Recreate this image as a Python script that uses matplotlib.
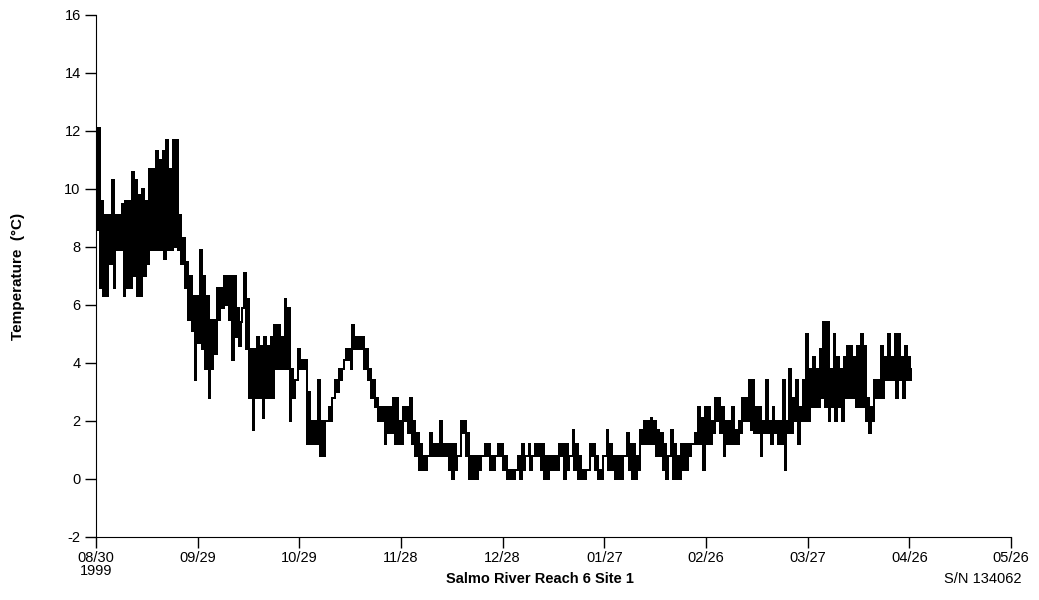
import numpy as np
import matplotlib
matplotlib.use("Agg")
import matplotlib.pyplot as plt

plt.rcParams['font.family'] = ['Liberation Sans', 'DejaVu Sans']
plt.rcParams['axes.unicode_minus'] = False

# daily max / min water temperature (deg C), day 0 = 08/30/1999
day_hi = [12.1, 9.6, 9.1, 9.1, 10.3, 9.1, 9.1, 9.5, 9.6, 9.6,
          10.6, 10.3, 9.8, 10.0, 9.6, 10.7, 10.7, 11.3, 11.0, 11.3,
          11.7, 10.7, 11.7, 11.7, 9.1, 8.3, 7.5, 7.0, 6.3, 6.3,
          7.9, 7.0, 6.3, 5.5, 5.5, 6.6, 6.6, 7.0, 7.0, 7.0,
          7.0, 5.9, 5.4, 7.1, 6.2, 4.5, 4.5, 4.9, 4.6, 4.9,
          4.6, 4.9, 5.3, 5.3, 4.9, 6.2, 5.9, 3.8, 3.4, 4.5,
          4.1, 4.1, 3.0, 2.0, 2.0, 3.4, 2.0, 2.0, 2.5, 2.8,
          3.4, 3.8, 3.8, 4.5, 4.5, 5.3, 4.9, 4.9, 4.9, 4.5,
          3.8, 3.4, 2.8, 2.5, 2.5, 2.5, 2.5, 2.8, 2.8, 2.0,
          2.5, 2.5, 2.8, 2.0, 1.6, 1.2, 0.8, 0.8, 1.6, 1.2,
          1.2, 2.0, 1.2, 1.2, 1.2, 1.2, 0.8, 2.0, 2.0, 1.6,
          0.8, 0.8, 0.8, 0.8, 1.2, 1.2, 0.8, 0.8, 1.2, 1.2,
          0.8, 0.3, 0.3, 0.3, 0.8, 1.2, 0.8, 1.2, 0.8, 1.2,
          1.2, 1.2, 0.8, 0.8, 0.8, 0.8, 1.2, 1.2, 1.2, 0.8,
          1.7, 1.2, 0.8, 0.3, 0.3, 1.2, 1.2, 0.8, 0.3, 0.8,
          1.7, 1.2, 0.8, 0.8, 0.8, 0.8, 1.6, 1.2, 1.2, 0.8,
          1.7, 2.0, 2.0, 2.1, 2.0, 1.7, 1.6, 1.2, 0.8, 1.7,
          1.2, 0.8, 1.2, 1.2, 1.2, 1.2, 1.6, 2.5, 2.1, 2.5,
          2.5, 2.0, 2.8, 2.8, 2.5, 2.0, 2.0, 2.5, 1.7, 2.0,
          2.8, 2.8, 3.4, 3.4, 2.5, 2.5, 2.0, 3.4, 2.0, 2.5,
          2.0, 2.0, 3.4, 2.0, 3.8, 2.8, 3.4, 2.5, 3.4, 5.0,
          3.8, 4.2, 3.8, 4.5, 5.4, 5.4, 3.8, 5.0, 4.2, 3.8,
          4.2, 4.6, 4.6, 4.2, 4.6, 5.0, 4.6, 2.8, 2.5, 3.4,
          3.4, 4.6, 4.2, 5.0, 4.2, 5.0, 5.0, 4.2, 4.6, 4.2,
          3.8]
day_lo = [8.6, 6.6, 6.3, 6.3, 7.4, 6.6, 7.9, 7.9, 6.3, 6.6,
          6.6, 7.0, 6.3, 6.3, 7.0, 7.4, 7.9, 7.9, 7.9, 7.9,
          7.6, 7.9, 7.9, 8.0, 7.9, 7.4, 6.6, 5.5, 5.1, 3.4,
          4.7, 4.5, 3.8, 2.8, 3.8, 4.3, 5.5, 5.9, 6.0, 5.5,
          4.1, 4.9, 4.6, 5.9, 4.5, 2.8, 1.7, 2.8, 2.8, 2.1,
          2.8, 2.8, 2.8, 3.8, 3.8, 3.8, 3.8, 2.0, 2.8, 3.4,
          3.8, 3.8, 1.2, 1.2, 1.2, 1.2, 0.8, 0.8, 2.0, 2.0,
          2.8, 3.0, 3.4, 4.1, 4.1, 3.8, 4.5, 4.5, 4.5, 3.8,
          3.4, 2.8, 2.5, 2.0, 2.0, 1.2, 1.6, 1.6, 1.2, 1.2,
          1.2, 2.0, 1.6, 1.2, 0.8, 0.3, 0.3, 0.3, 0.8, 0.8,
          0.8, 0.8, 0.8, 0.8, 0.3, 0.0, 0.3, 0.8, 1.6, 0.8,
          0.0, 0.0, 0.0, 0.3, 0.8, 0.8, 0.3, 0.3, 0.8, 0.8,
          0.3, 0.0, 0.0, 0.0, 0.3, 0.0, 0.3, 0.8, 0.3, 0.8,
          0.8, 0.3, 0.0, 0.0, 0.3, 0.3, 0.3, 0.8, 0.0, 0.3,
          0.8, 0.3, 0.0, 0.0, 0.0, 0.3, 0.8, 0.3, 0.0, 0.0,
          0.8, 0.3, 0.3, 0.0, 0.0, 0.0, 0.8, 0.3, 0.0, 0.0,
          0.3, 1.2, 1.2, 1.2, 1.2, 0.8, 0.8, 0.3, 0.0, 0.8,
          0.0, 0.0, 0.0, 0.3, 0.3, 0.8, 1.2, 1.2, 1.2, 0.3,
          1.2, 1.2, 1.6, 2.0, 1.6, 0.8, 1.2, 1.2, 1.2, 1.2,
          1.6, 2.0, 2.0, 1.7, 1.6, 1.6, 0.8, 1.6, 1.6, 1.2,
          1.6, 1.2, 1.2, 0.3, 1.6, 1.6, 2.0, 1.2, 2.0, 2.0,
          2.0, 2.5, 2.5, 2.5, 2.8, 2.5, 2.0, 2.5, 2.0, 2.5,
          2.0, 2.8, 2.8, 2.8, 2.5, 2.5, 2.5, 2.0, 1.6, 2.0,
          2.8, 2.8, 2.8, 3.4, 3.4, 3.4, 2.8, 3.4, 2.8, 3.4,
          3.4]

tick_days = [0, 30, 60, 90, 120, 150, 180, 210, 240, 270]
tick_labels = ["08/30\n1999", "09/29", "10/29", "11/28", "12/28",
               "01/27", "02/26", "03/27", "04/26", "05/26"]

# one low (night) and one high (afternoon) reading per day
t = []
temp = []
for d in range(len(day_hi)):
    t += [d + 0.2, d + 0.65]
    temp += [day_lo[d], day_hi[d]]
t = np.array(t)
temp = np.array(temp)

fig = plt.figure(figsize=(10.39, 6.0), dpi=100)
ax = fig.add_axes([0.0924, 0.105, 0.8806, 0.870])
ax.plot(t, temp, color="black", lw=1.1, drawstyle="steps-post", antialiased=False)

ax.set_xlim(0, 270)
ax.set_ylim(-2, 16)
ax.set_yticks(np.arange(-2, 17, 2))
ax.set_xticks(tick_days)
ax.set_xticklabels(tick_labels, fontsize=10.5, linespacing=0.95)
ax.tick_params(axis="y", labelsize=10.5, length=8, width=1, direction="out", pad=3)
ax.tick_params(axis="x", length=8, width=1, direction="out", pad=2)
ax.spines["top"].set_visible(False)
ax.spines["right"].set_visible(False)

ax.set_ylabel("Temperature  (°C)", fontsize=11, fontweight="bold", labelpad=28)
fig.text(0.52, 0.023, "Salmo River Reach 6 Site 1", fontsize=10.5,
         fontweight="bold", ha="center", va="bottom")
fig.text(0.946, 0.023, "S/N 134062", fontsize=10.5, ha="center", va="bottom")

fig.savefig("out.png", dpi=100)
